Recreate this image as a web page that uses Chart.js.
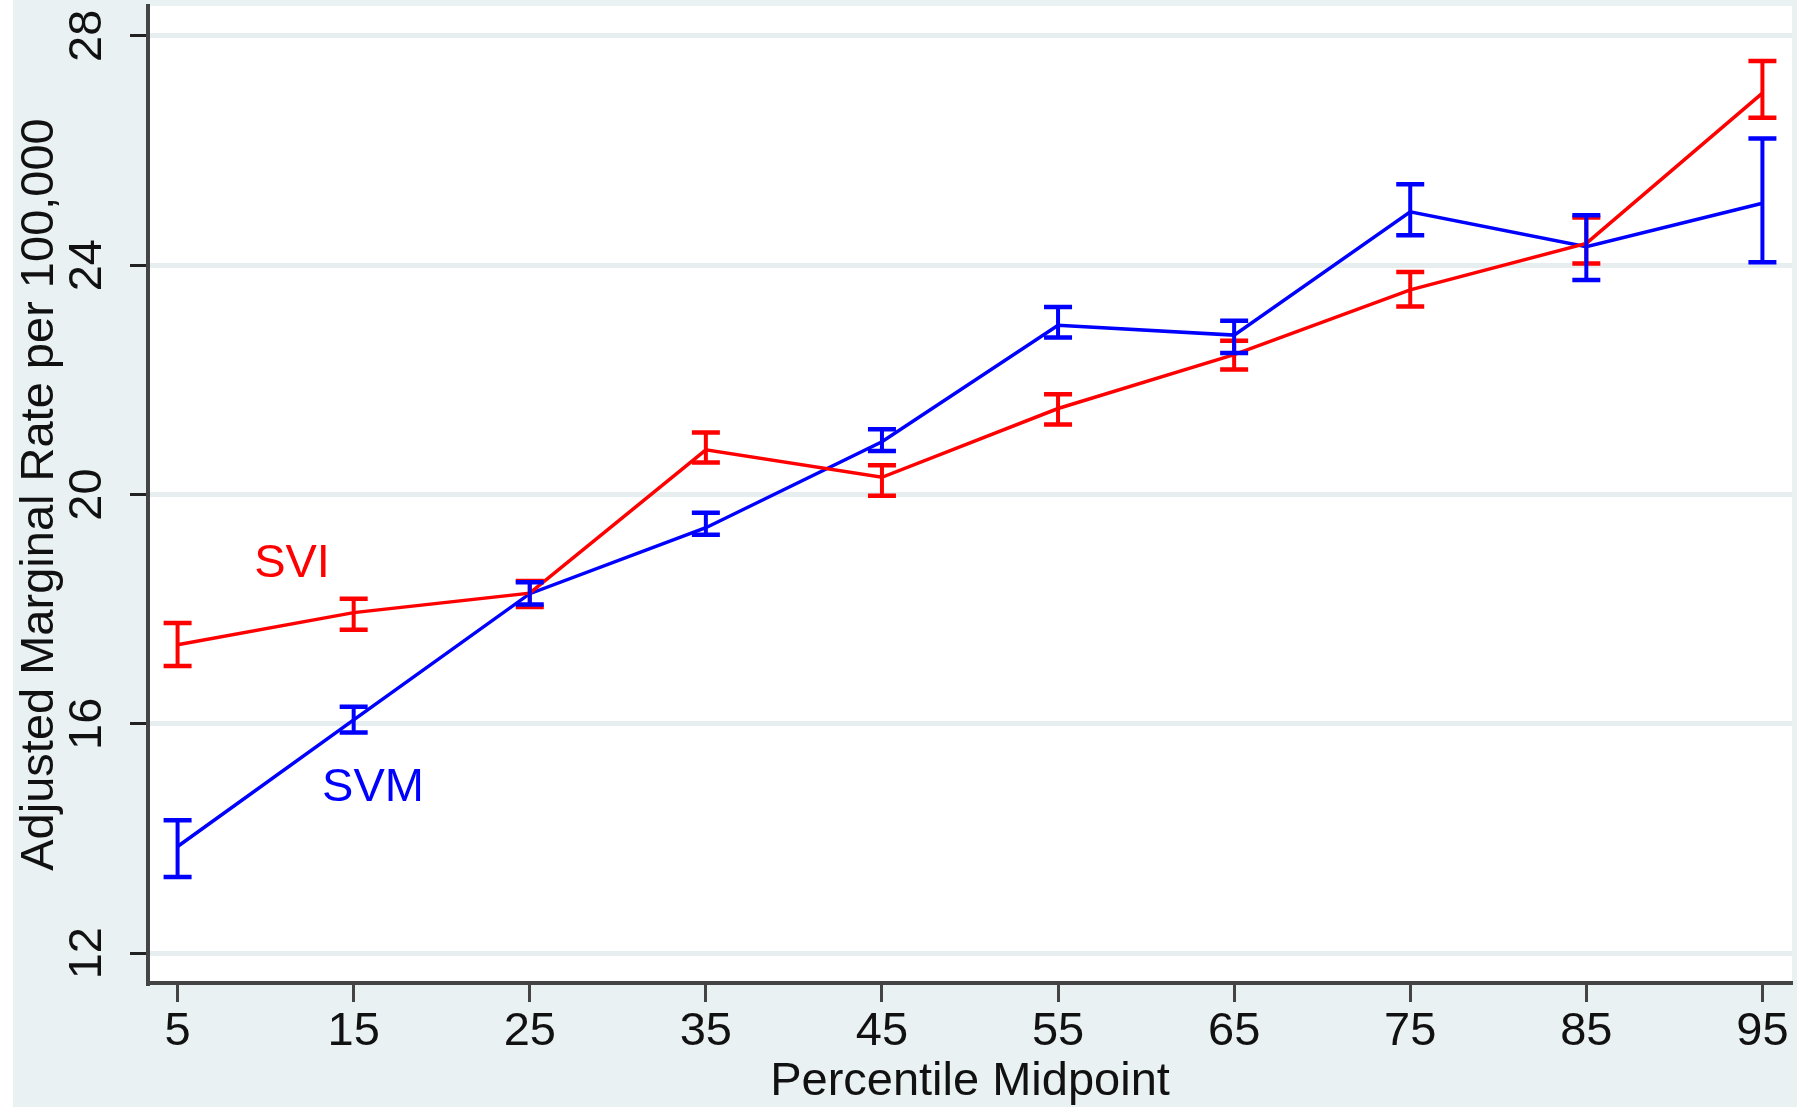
<!DOCTYPE html>
<html>
<head>
<meta charset="utf-8">
<script src="https://cdn.jsdelivr.net/npm/chart.js@4/dist/chart.umd.min.js"></script>
<style>
  html, body { margin: 0; padding: 0; background: #e9f1f3; }
  #wrap { width: 1797px; height: 1107px; position: relative; }
  canvas { display: block; }
</style>
</head>
<body>
<div id="wrap"><canvas id="c" width="1797" height="1107"></canvas></div>
<script>
// ---- data ----
const percentiles = [5, 15, 25, 35, 45, 55, 65, 75, 85, 95];
const sviRate = [17.38, 17.94, 18.28, 20.78, 20.30, 21.50, 22.44, 23.57, 24.38, 27.00];
const sviLow  = [17.01, 17.64, 18.04, 20.56, 19.98, 21.22, 22.18, 23.28, 24.03, 26.57];
const sviHigh = [17.76, 18.18, 18.49, 21.08, 20.51, 21.75, 22.68, 23.88, 24.83, 27.56];
const svmRate = [13.86, 16.07, 18.27, 19.42, 20.92, 22.95, 22.78, 24.93, 24.32, 25.08];
const svmLow  = [13.33, 15.85, 18.08, 19.30, 20.76, 22.74, 22.47, 24.52, 23.74, 24.05];
const svmHigh = [14.32, 16.30, 18.47, 19.68, 21.14, 23.27, 23.03, 25.41, 24.87, 26.21];
const xTickValues = [5, 15, 25, 35, 45, 55, 65, 75, 85, 95];
const yTickValues = [12, 16, 20, 24, 28];
const seriesNames = ['SVI', 'SVM'];
const labelAnchors = { SVI: [11.5, 18.78], SVM: [16.1, 14.88] };
const xTitle = 'Percentile Midpoint';
const yTitle = 'Adjusted Marginal Rate per 100,000';

const FONT = "'Liberation Sans', Arial, sans-serif";
const RED = '#ff0000';
const BLUE = '#0000ff';

const bgPlugin = {
  id: 'bg',
  beforeDraw(chart) {
    const { ctx, chartArea: a } = chart;
    ctx.save();
    ctx.fillStyle = '#e9f1f3';
    ctx.fillRect(0, 0, chart.width, chart.height);
    ctx.fillStyle = '#ffffff';
    ctx.fillRect(0, 0, 13, chart.height);
    ctx.fillRect(a.left, a.top, a.right - a.left, a.bottom - a.top);
    ctx.restore();
  }
};

const errPlugin = {
  id: 'errbars',
  afterDatasetsDraw(chart) {
    const { ctx } = chart;
    const xs = chart.scales.x, ys = chart.scales.y;
    chart.data.datasets.forEach(ds => {
      ctx.save();
      ctx.strokeStyle = ds.borderColor;
      ds.lo.forEach((lo, i) => {
        const x = xs.getPixelForValue(percentiles[i]);
        const yl = ys.getPixelForValue(lo);
        const yh = ys.getPixelForValue(ds.hi[i]);
        ctx.lineWidth = 4;
        ctx.beginPath();
        ctx.moveTo(x, yl); ctx.lineTo(x, yh);
        ctx.stroke();
        ctx.lineWidth = 4.5;
        ctx.beginPath();
        ctx.moveTo(x - 14, yl); ctx.lineTo(x + 14, yl);
        ctx.moveTo(x - 14, yh); ctx.lineTo(x + 14, yh);
        ctx.stroke();
      });
      ctx.restore();
    });
  }
};

const textPlugin = {
  id: 'texts',
  afterDraw(chart) {
    const { ctx } = chart;
    const xs = chart.scales.x, ys = chart.scales.y;
    ctx.save();
    ctx.font = '47px ' + FONT;
    ctx.fillStyle = '#111';
    ctx.textAlign = 'center';
    ctx.textBaseline = 'middle';
    yTickValues.forEach(v => {
      const y = ys.getPixelForValue(v);
      ctx.save();
      ctx.translate(88, y);
      ctx.rotate(-Math.PI / 2);
      ctx.fillText(String(v), 0, 0);
      ctx.restore();
    });
    const cols = { SVI: RED, SVM: BLUE };
    seriesNames.forEach(n => {
      ctx.fillStyle = cols[n];
      const [vx, vy] = labelAnchors[n];
      ctx.fillText(n, xs.getPixelForValue(vx), ys.getPixelForValue(vy));
    });
    ctx.restore();
  }
};

const ctx = document.getElementById('c').getContext('2d');
new Chart(ctx, {
  type: 'line',
  data: {
    datasets: [
      { label: seriesNames[0], data: percentiles.map((x, i) => ({ x, y: sviRate[i] })),
        borderColor: RED, borderWidth: 3.5, pointRadius: 0, tension: 0, fill: false,
        lo: sviLow, hi: sviHigh },
      { label: seriesNames[1], data: percentiles.map((x, i) => ({ x, y: svmRate[i] })),
        borderColor: BLUE, borderWidth: 3.5, pointRadius: 0, tension: 0, fill: false,
        lo: svmLow, hi: svmHigh }
    ]
  },
  options: {
    responsive: false,
    animation: false,
    devicePixelRatio: 1,
    layout: { padding: { top: 6, right: 5, left: 0, bottom: 0 } },
    plugins: { legend: { display: false }, tooltip: { enabled: false } },
    scales: {
      x: {
        type: 'linear', min: 3.32, max: 96.68,
        afterBuildTicks: s => { s.ticks = xTickValues.map(v => ({ value: v })); },
        afterFit: s => { s.height = 124; },
        grid: { drawOnChartArea: false, drawTicks: true, tickLength: 19, tickWidth: 3, tickColor: '#444', color: '#444' },
        border: { display: true, color: '#444', width: 4 },
        ticks: { font: { family: FONT, size: 47 }, color: '#111', padding: 2, maxRotation: 0, minRotation: 0, autoSkip: false,
                 callback: v => String(v) },
        title: { display: true, text: xTitle, font: { family: FONT, size: 47, lineHeight: 1.0 }, color: '#111',
                 padding: { top: 0, bottom: 1 } }
      },
      y: {
        type: 'linear', min: 11.48, max: 28.52,
        afterBuildTicks: s => { s.ticks = yTickValues.map(v => ({ value: v })); },
        afterFit: s => { s.width = 148; },
        grid: { color: '#e6eef0', lineWidth: 5, drawTicks: true, tickLength: 18, tickWidth: 3, tickColor: '#222' },
        border: { display: true, color: '#444', width: 4 },
        ticks: { display: false },
        title: { display: true, text: yTitle, font: { family: FONT, size: 47, lineHeight: 1.0 }, color: '#111',
                 padding: { top: 17, bottom: 0 } }
      }
    }
  },
  plugins: [bgPlugin, errPlugin, textPlugin]
});
</script>
</body>
</html>
